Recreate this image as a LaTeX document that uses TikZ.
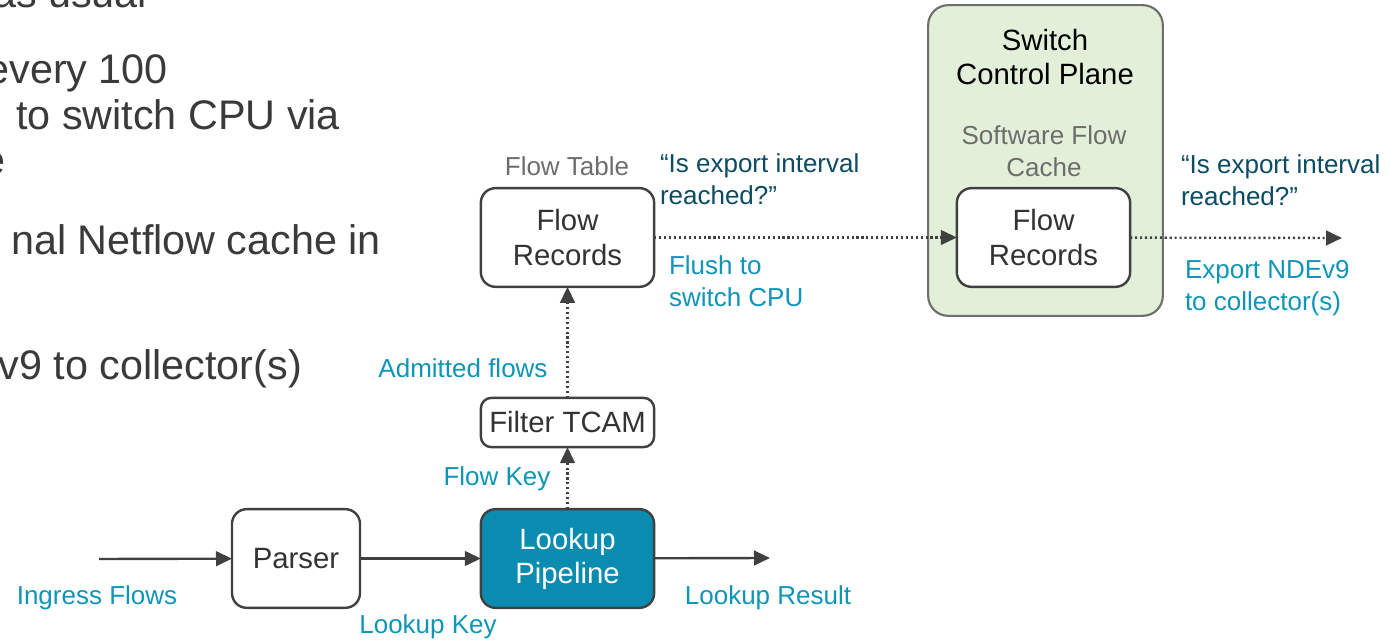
\documentclass[tikz,border=0pt]{standalone}
\usepackage{fontspec}
\setmainfont{Liberation Sans}
\usepackage{tikz}
\usetikzlibrary{arrows.meta,positioning}

\definecolor{boxline}{HTML}{404040}
\definecolor{boxtext}{HTML}{333333}
\definecolor{lblue}{HTML}{0E95B8}
\definecolor{pipefill}{HTML}{0A8CB0}
\definecolor{qdark}{HTML}{0B4B63}
\definecolor{ctrlfill}{HTML}{E2F0D9}
\definecolor{ctrlline}{HTML}{6E6E6E}
\definecolor{greytext}{HTML}{6D6D6D}
\definecolor{slidetext}{HTML}{3A3A3A}

\begin{document}
\begin{tikzpicture}[
        x=0.75pt, y=-0.75pt,
        every node/.style={inner sep=0pt, outer sep=0pt},
        stage/.style={
            draw=boxline, line width=1.8pt, rounded corners=11pt,
            fill=white, text=boxtext, align=center,
            font=\fontsize{22}{26}\selectfont
        },
        label blue/.style={text=lblue, font=\fontsize{19.5}{24}\selectfont, align=left},
        label quote/.style={text=qdark, font=\fontsize{19.5}{24}\selectfont, align=left},
        label grey/.style={text=greytext, font=\fontsize{19.5}{24}\selectfont, align=center},
        slide/.style={text=slidetext, font=\fontsize{31}{37}\selectfont, anchor=base east},
        flow/.style={draw=boxline, line width=1.8pt, -{Triangle[length=12pt,width=11pt]}},
        dotflow/.style={flow, dash pattern=on 1.6pt off 2.1pt}
    ]
        \useasboundingbox (0,0) rectangle (1390,641);

        % slide text, cut by the page edge
        \node[slide] (s1) at (147,8) {as usual};
        \node[slide] (s2) at (168,84) {every 100};
        \node[slide] (s3) at (340,130) {to switch CPU via};
        \node[slide] (s4) at (5,175) {e};
        \node[slide] (s5) at (381,255) {nal Netflow cache in};
        \node[slide] (s6) at (302,380) {v9 to collector(s)};

        % control plane
        \node[draw=ctrlline, line width=1.6pt, fill=ctrlfill, rounded corners=15pt,
              minimum width=176pt, minimum height=233pt] (ctrl) at (1045.5,160.5) {};
        \node[text=black, align=center, font=\fontsize{22}{26}\selectfont] (ctrltitle) at (1045,57) {Switch\\Control Plane};
        \node[label grey] (swcache) at (1044,151) {Software Flow\\Cache};

        % pipeline
        \node[stage, minimum width=96pt, minimum height=74pt] (parser) at (296,558.5) {\raisebox{-2pt}{Parser}};
        \node[stage, fill=pipefill, text=white, minimum width=130pt, minimum height=74pt] (pipe) at (567.5,558.5) {\raisebox{-3pt}{\shortstack{Lookup\\[2pt]Pipeline}}};
        \node[stage, rounded corners=8pt, minimum width=130pt, minimum height=37pt] (tcam) at (567.5,422.5) {Filter TCAM};
        \node[stage, minimum width=130pt, minimum height=74pt] (rec1) at (567.5,237.5) {Flow\\Records};
        \node[stage, minimum width=130pt, minimum height=74pt] (rec2) at (1043.5,237.5) {Flow\\Records};

        \coordinate (ingress) at (99,559);
        \coordinate (result) at (770,558);
        \coordinate (export) at (1342,238);

        \draw[flow] (ingress) -- (parser);
        \draw[flow] (parser) -- (pipe);
        \draw[flow] (pipe) -- (result);
        \draw[dotflow] (pipe) -- (tcam);
        \draw[dotflow] (tcam) -- (rec1);
        \draw[dotflow] (rec1) -- (rec2);
        \draw[dotflow] (rec2) -- (export);

        % labels
        \node[label blue] (lin) at (97,598) {Ingress Flows};
        \node[label blue] (lkey) at (428,627) {Lookup Key};
        \node[label blue] (lres) at (768,598) {Lookup Result};
        \node[label blue] (fkey) at (497,479) {Flow Key};
        \node[label blue] (adm) at (463,368) {Admitted flows};
        \node[label grey] (ftab) at (567,166) {Flow Table};
        \node[label quote, anchor=west] (q1) at (660,179) {“Is export interval\\reached?”};
        \node[label blue, anchor=west] (flush) at (669,281) {Flush to\\switch CPU};
        \node[label quote, anchor=west] (q2) at (1181,180) {“Is export interval\\reached?”};
        \node[label blue, anchor=west] (exp) at (1185,288) {Export NDEv9\\to collector(s)};
\end{tikzpicture}
\end{document}
